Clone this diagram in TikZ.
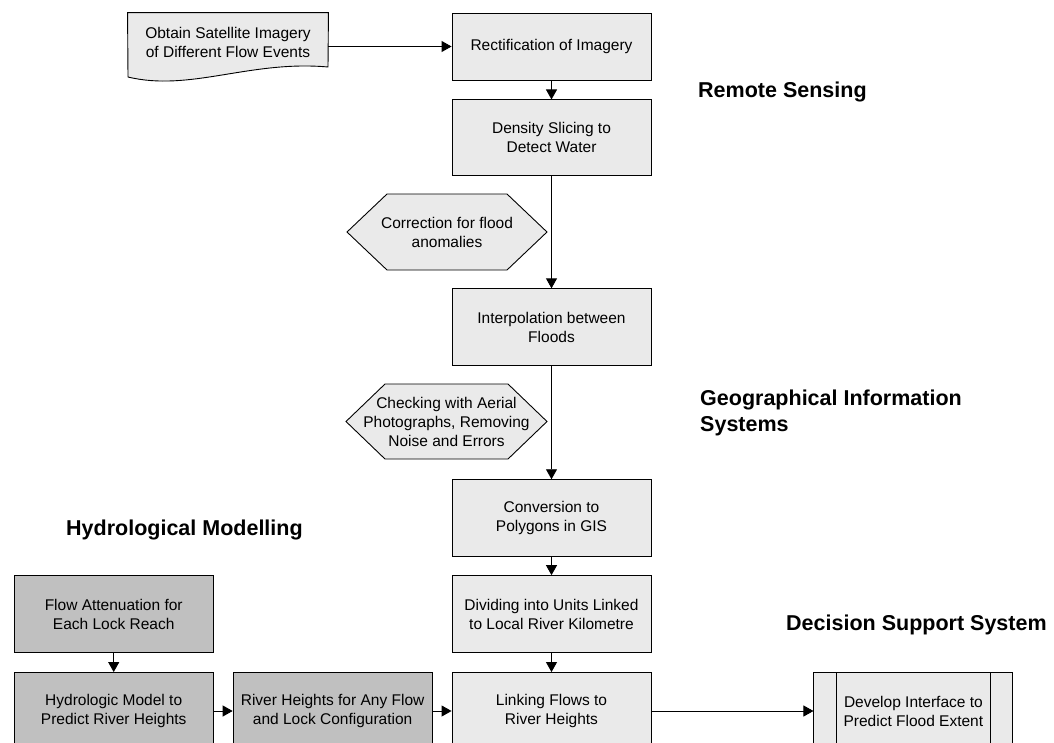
\documentclass[tikz,border=0pt]{standalone}
\usepackage{fontspec}
\setmainfont{Liberation Sans}
\usetikzlibrary{arrows.meta,positioning,calc}
\definecolor{StepFill}{RGB}{234,234,234}
\definecolor{HydroFill}{RGB}{192,192,192}

\begin{document}
\begin{tikzpicture}[
  x=1pt, y=-1pt,
  node distance=19pt and 19pt,
  stage/.style={
    rectangle,
    draw=black,
    line width=0.9pt,
    fill=StepFill,
    align=center,
    minimum width=199pt,
    minimum height=77pt,
    inner sep=2pt,
    font=\fontsize{15.5}{19}\selectfont
  },
  hydro/.style={stage, fill=HydroFill},
  outline/.style={fill=StepFill, draw=black, line width=0.9pt},
  checktext/.style={align=center, inner sep=0pt, font=\fontsize{15.5}{19}\selectfont},
  heading/.style={anchor=base west, inner sep=0pt, align=left,
    font=\fontsize{21.5}{26}\selectfont\bfseries},
  arrow/.style={-{Triangle[length=10pt,width=11pt]}, line width=0.9pt}
]
\useasboundingbox (0,0) rectangle (1054,742);
\clip (0,0) rectangle (1054,742);

% remote sensing
\node[stage, minimum height=67pt] (rect) at (551.5,46.5) {Rectification of Imagery};
\node[stage, minimum height=76pt, below=of rect] (dens) {Density Slicing to\\Detect Water};
\node[stage, below=112pt of dens] (interp) {Interpolation between\\Floods};
\node[stage, below=113pt of interp] (conv) {Conversion to\\Polygons in GIS};
\node[stage, below=18pt of conv] (divide) {Dividing into Units Linked\\to Local River Kilometre};
\node[stage, below=of divide] (link) {Linking Flows to\\River Heights};

% satellite document
\node[stage, draw=none, fill=none, minimum width=200pt, minimum height=59pt] (sat) at (228,42.5) {};
\filldraw[outline] (sat.north west) -- (sat.north east) -- (328,67)
  .. controls (250,60) and (190,92) .. (128,77) -- cycle;
\node[checktext] at (sat.center) {Obtain Satellite Imagery\\of Different Flow Events};

% checks (hexagons)
\filldraw[outline] (347,232) -- (387,194) -- (507,194) -- (547,232) -- (507,270) -- (387,270) -- cycle;
\node[checktext] (corr) at (447,232) {Correction for flood\\anomalies};
\filldraw[outline] (346,421.5) -- (385,384) -- (508,384) -- (547,421.5) -- (508,459) -- (385,459) -- cycle;
\node[checktext] (aerial) at (446.5,421.5) {Checking with Aerial\\Photographs, Removing\\Noise and Errors};

% hydrological modelling
\node[hydro, left=of link] (riverh) {River Heights for Any Flow\\and Lock Configuration};
\node[hydro, left=of riverh] (model) {Hydrologic Model to\\Predict River Heights};
\node[hydro, above=of model] (atten) {Flow Attenuation for\\Each Lock Reach};

% decision support
\node[stage, right=162pt of link] (iface) {Develop Interface to\\Predict Flood Extent};
\draw[line width=0.9pt] ([xshift=23pt]iface.north west) -- ([xshift=23pt]iface.south west);
\draw[line width=0.9pt] ([xshift=-23pt]iface.north east) -- ([xshift=-23pt]iface.south east);

% headings
\node[heading] (hrs) at (698,97) {Remote Sensing};
\node[heading, anchor=north west] (hgis) at (700,389.5) {Geographical Information\\Systems};
\node[heading] (hhm) at (66,535) {Hydrological Modelling};
\node[heading] (hdss) at (786,630) {Decision Support System};

\draw[arrow] (sat.east |- rect) -- (rect);
\draw[arrow] (rect) -- (dens);
\draw[arrow] (dens) -- (interp);
\draw[arrow] (interp) -- (conv);
\draw[arrow] (conv) -- (divide);
\draw[arrow] (divide) -- (link);
\draw[arrow] (atten) -- (model);
\draw[arrow] (model) -- (riverh);
\draw[arrow] (riverh) -- (link);
\draw[arrow] (link) -- (iface);
\end{tikzpicture}
\end{document}
